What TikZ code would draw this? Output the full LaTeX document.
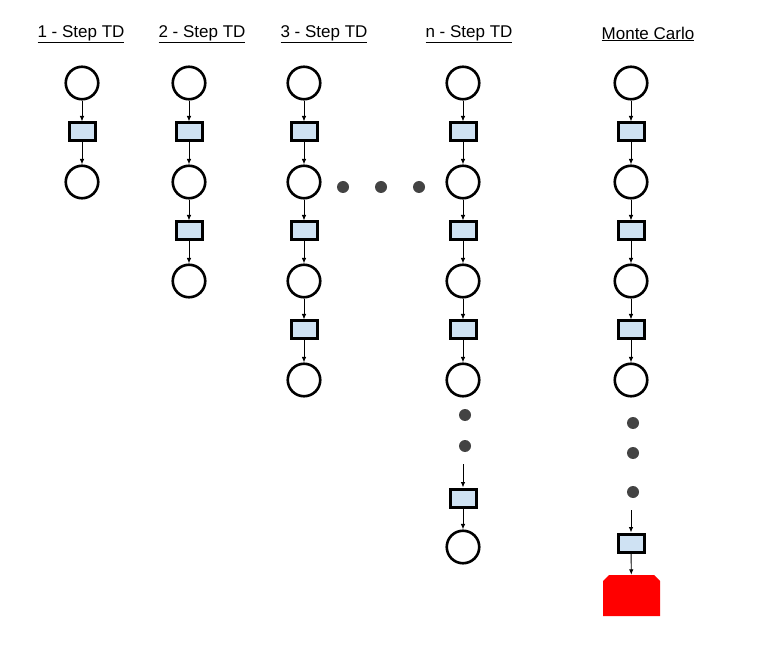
\documentclass[tikz,border=0pt]{standalone}
\usepackage{fontspec}
\setmainfont{Liberation Sans}
\usetikzlibrary{arrows.meta}
\definecolor{actblue}{HTML}{CFE2F3}
\definecolor{dotgray}{HTML}{434343}

\begin{document}
\begin{tikzpicture}
[
    x=1pt, y=-1pt,
    head/.style={font=\fontsize{17}{19}\selectfont, inner sep=0pt},
    stnode/.style={circle, draw, line width=2.6pt, minimum size=32.5pt, inner sep=0pt},
    actnode/.style={rectangle, draw, fill=actblue, line width=3pt, minimum width=26pt, minimum height=18pt, inner sep=0pt},
    dotnode/.style={circle, fill=dotgray, minimum size=12pt, inner sep=0pt},
    endnode/.style={rectangle, minimum width=57pt, minimum height=41pt, inner sep=0pt,
        path picture={\fill[red] (path picture bounding box.south west)
            -- ([yshift=-6pt]path picture bounding box.north west)
            -- ([xshift=6pt]path picture bounding box.north west)
            -- ([xshift=-6pt]path picture bounding box.north east)
            -- ([yshift=-6pt]path picture bounding box.north east)
            -- (path picture bounding box.south east) -- cycle;}},
    edge/.style={line width=0.9pt, -{Latex[length=5.5pt,width=4.5pt]}},
]
\useasboundingbox (0,0) rectangle (758,660);

% column titles
\node [head] (h1) at (81,34) {\underline{1 - Step TD}};
\node [head] (h2) at (202,34) {\underline{2 - Step TD}};
\node [head] (h3) at (324,34) {\underline{3 - Step TD}};
\node [head] (h4) at (469,34) {\underline{n - Step TD}};
\node [head] (h5) at (648,34) {\underline{Monte Carlo}};

% 1 - step
\node [stnode] (a1) at (82,83) {};
\node [actnode] (a2) at (82,132) {};
\node [stnode] (a3) at (82,182) {};
\draw [edge] (a1) -- (a2);
\draw [edge] (a2) -- (a3);

% 2 - step
\node [stnode] (b1) at (189,83) {};
\node [actnode] (b2) at (189,132) {};
\node [stnode] (b3) at (189,182) {};
\node [actnode] (b4) at (189,231) {};
\node [stnode] (b5) at (189,281) {};
\draw [edge] (b1) -- (b2);
\draw [edge] (b2) -- (b3);
\draw [edge] (b3) -- (b4);
\draw [edge] (b4) -- (b5);

% 3 - step
\node [stnode] (c1) at (304,83) {};
\node [actnode] (c2) at (304,132) {};
\node [stnode] (c3) at (304,182) {};
\node [actnode] (c4) at (304,231) {};
\node [stnode] (c5) at (304,281) {};
\node [actnode] (c6) at (304,330) {};
\node [stnode] (c7) at (304,380) {};
\draw [edge] (c1) -- (c2);
\draw [edge] (c2) -- (c3);
\draw [edge] (c3) -- (c4);
\draw [edge] (c4) -- (c5);
\draw [edge] (c5) -- (c6);
\draw [edge] (c6) -- (c7);

% dots between 3 and n
\node [dotnode] (m1) at (343,187) {};
\node [dotnode] (m2) at (381,187) {};
\node [dotnode] (m3) at (419,187) {};

% n - step
\node [stnode] (d1) at (463,83) {};
\node [actnode] (d2) at (463,132) {};
\node [stnode] (d3) at (463,182) {};
\node [actnode] (d4) at (463,231) {};
\node [stnode] (d5) at (463,281) {};
\node [actnode] (d6) at (463,330) {};
\node [stnode] (d7) at (463,380) {};
\node [dotnode] (d8) at (465,415) {};
\node [dotnode] (d9) at (465,446) {};
\coordinate (d10) at (463,464);
\node [actnode] (d11) at (463,498) {};
\node [stnode] (d12) at (463,547) {};
\draw [edge] (d1) -- (d2);
\draw [edge] (d2) -- (d3);
\draw [edge] (d3) -- (d4);
\draw [edge] (d4) -- (d5);
\draw [edge] (d5) -- (d6);
\draw [edge] (d6) -- (d7);
\draw [edge] (d10) -- (d11);
\draw [edge] (d11) -- (d12);

% monte carlo
\node [stnode] (e1) at (631,83) {};
\node [actnode] (e2) at (631,132) {};
\node [stnode] (e3) at (631,182) {};
\node [actnode] (e4) at (631,231) {};
\node [stnode] (e5) at (631,281) {};
\node [actnode] (e6) at (631,330) {};
\node [stnode] (e7) at (631,380) {};
\node [dotnode] (e8) at (633,423) {};
\node [dotnode] (e9) at (633,453) {};
\node [dotnode] (e10) at (633,492) {};
\coordinate (e11) at (631,510);
\node [actnode] (e12) at (631,543) {};
\node [endnode] (e13) at (631.5,595.5) {};
\draw [edge] (e1) -- (e2);
\draw [edge] (e2) -- (e3);
\draw [edge] (e3) -- (e4);
\draw [edge] (e4) -- (e5);
\draw [edge] (e5) -- (e6);
\draw [edge] (e6) -- (e7);
\draw [edge] (e11) -- (e12);
\draw [edge] (e12) -- (e13);
\end{tikzpicture}
\end{document}
